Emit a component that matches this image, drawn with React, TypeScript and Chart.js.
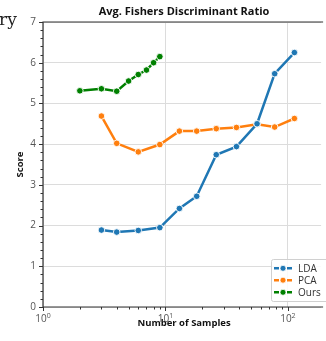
import React, { useEffect, useRef } from "react";
import { Chart, registerables } from "chart.js";

Chart.register(...registerables);

const ldaX = [3, 4, 6, 9, 13, 18, 26, 38, 56, 78, 113];
const ldaY = [1.89, 1.84, 1.88, 1.95, 2.42, 2.72, 3.74, 3.94, 4.5, 5.73, 6.25];
const pcaX = [3, 4, 6, 9, 13, 18, 26, 38, 56, 78, 113];
const pcaY = [4.69, 4.02, 3.81, 3.99, 4.32, 4.32, 4.38, 4.41, 4.49, 4.42, 4.63];
const oursX = [2, 3, 4, 5, 6, 7, 8, 9];
const oursY = [5.31, 5.36, 5.3, 5.55, 5.71, 5.82, 6.0, 6.15];

const seriesNames = ["LDA", "PCA", "Ours"];
const seriesColors = ["#1f77b4", "#ff7f0e", "#008000"];
const yTicks = [0, 1, 2, 3, 4, 5, 6, 7];
const xMajor = [1, 10, 100];
const xExp = ["0", "1", "2"];

const titleText = "Avg. Fishers Discriminant Ratio";
const xTitle = "Number of Samples";
const yTitle = "Score";
const FONT = "'Open Sans', 'Noto Sans', sans-serif";

const pts = (xs: number[], ys: number[]) => xs.map((x, i) => ({ x, y: ys[i] }));

const decor = {
  id: "decor",
  afterDraw(chart: any) {
    const { ctx, chartArea: a, scales } = chart;
    const xs = scales.x;
    const ys = scales.y;
    ctx.save();
    // spines
    ctx.strokeStyle = "#333";
    ctx.lineWidth = 1.2;
    ctx.beginPath();
    ctx.moveTo(a.right + 2, a.top);
    ctx.lineTo(a.left, a.top);
    ctx.lineTo(a.left, a.bottom);
    ctx.lineTo(a.right + 2, a.bottom);
    ctx.stroke();
    // y ticks
    ctx.lineWidth = 1;
    for (let v = 0; v <= 7.0001; v += 0.2) {
      const p = Math.round(ys.getPixelForValue(v)) + 0.5;
      const major = Math.abs(v - Math.round(v)) < 0.01;
      ctx.beginPath();
      ctx.moveTo(a.left, p);
      ctx.lineTo(a.left - (major ? 4 : 2.5), p);
      ctx.stroke();
    }
    // x ticks
    for (let d = 1; d <= 100; d *= 10) {
      for (let m = 1; m <= 9; m++) {
        const v = d * m;
        if (v > xs.max) break;
        const p = Math.round(xs.getPixelForValue(v)) + 0.5;
        const major = m === 1;
        ctx.beginPath();
        ctx.moveTo(p, a.bottom);
        ctx.lineTo(p, a.bottom + (major ? 4 : 2.5));
        ctx.stroke();
      }
    }
    // y tick labels
    ctx.fillStyle = "#555";
    ctx.font = `10px ${FONT}`;
    ctx.textAlign = "right";
    ctx.textBaseline = "middle";
    yTicks.forEach((v) => {
      ctx.fillText(String(v), a.left - 7, ys.getPixelForValue(v));
    });
    // x tick labels
    xMajor.forEach((v, i) => {
      const p = xs.getPixelForValue(v);
      ctx.font = `10px ${FONT}`;
      ctx.textBaseline = "top";
      const w10 = ctx.measureText("10").width;
      ctx.font = `7px ${FONT}`;
      const we = ctx.measureText(xExp[i]).width;
      const start = p - (w10 + we) / 2;
      ctx.font = `10px ${FONT}`;
      ctx.textAlign = "left";
      ctx.fillText("10", start, a.bottom + 7);
      ctx.font = `7px ${FONT}`;
      ctx.fillText(xExp[i], start + w10, a.bottom + 5);
    });
    // titles
    ctx.fillStyle = "#111";
    ctx.font = `bold 11px ${FONT}`;
    ctx.textAlign = "center";
    ctx.textBaseline = "middle";
    ctx.fillText(titleText, (a.left + a.right) / 2 + 2, 12);
    ctx.font = `bold 9.5px ${FONT}`;
    ctx.fillText(xTitle, (a.left + a.right) / 2 + 2, 323);
    ctx.save();
    ctx.translate(20, (a.top + a.bottom) / 2);
    ctx.rotate(-Math.PI / 2);
    ctx.fillText(yTitle, 0, 0);
    ctx.restore();
    // legend
    const lx = 271.5, ly = 259.5, lw = 60, lh = 42;
    ctx.fillStyle = "rgba(255,255,255,0.85)";
    ctx.strokeStyle = "#d0d0d0";
    ctx.lineWidth = 1;
    ctx.beginPath();
    ctx.roundRect(lx, ly, lw, lh, 2);
    ctx.fill();
    ctx.stroke();
    const rows = [268.3, 280.2, 292.3];
    seriesNames.forEach((name, i) => {
      const y = rows[i];
      ctx.strokeStyle = seriesColors[i];
      ctx.lineWidth = 2.5;
      ctx.setLineDash([5, 1.5]);
      ctx.beginPath();
      ctx.moveTo(274, y);
      ctx.lineTo(292, y);
      ctx.stroke();
      ctx.setLineDash([]);
      ctx.beginPath();
      ctx.arc(283, y, 3, 0, Math.PI * 2);
      ctx.fillStyle = seriesColors[i];
      ctx.fill();
      ctx.strokeStyle = "#fff";
      ctx.lineWidth = 0.8;
      ctx.stroke();
      ctx.fillStyle = "#333";
      ctx.font = `10px ${FONT}`;
      ctx.textAlign = "left";
      ctx.textBaseline = "middle";
      ctx.fillText(name, 298, y + 0.5);
    });
    ctx.restore();
  },
};

export default function App() {
  const ref = useRef<HTMLCanvasElement>(null);
  useEffect(() => {
    document.body.style.margin = "0";
    const mk = (xs: number[], ys: number[], i: number) => ({
      label: seriesNames[i],
      data: pts(xs, ys),
      borderColor: seriesColors[i],
      backgroundColor: seriesColors[i],
      borderWidth: 2.5,
      pointRadius: 3.3,
      pointBorderColor: "#fff",
      pointBorderWidth: 0.9,
      pointBackgroundColor: seriesColors[i],
      tension: 0,
    });
    const chart = new Chart(ref.current!, {
      type: "line",
      data: {
        datasets: [mk(ldaX, ldaY, 0), mk(pcaX, pcaY, 1), mk(oursX, oursY, 2)],
      },
      options: {
        animation: false,
        responsive: false,
        layout: { padding: { top: 22, right: 0, left: 0, bottom: 0 } },
        plugins: { legend: { display: false }, tooltip: { enabled: false } },
        scales: {
          x: {
            type: "logarithmic",
            min: 1,
            max: 186.7,
            afterBuildTicks: (s: any) => {
              s.ticks = xMajor.map((v) => ({ value: v }));
            },
            afterFit: (s: any) => {
              s.height = 34;
            },
            ticks: { display: false },
            grid: { color: "#dcdcdc", lineWidth: 1, drawTicks: false },
            border: { display: false },
          },
          y: {
            type: "linear",
            min: 0,
            max: 7,
            afterBuildTicks: (s: any) => {
              s.ticks = yTicks.map((v) => ({ value: v }));
            },
            afterFit: (s: any) => {
              s.width = 43;
            },
            ticks: { display: false },
            grid: { color: "#dcdcdc", lineWidth: 1, drawTicks: false },
            border: { display: false },
          },
        },
      } as any,
      plugins: [decor],
    });
    return () => chart.destroy();
  }, []);
  return (
    <div style={{ position: "relative", width: 326, height: 341, background: "#fff", overflow: "hidden" }}>
      <div
        style={{
          position: "absolute",
          left: -1,
          top: 9,
          fontFamily: "'DejaVu Serif', 'Liberation Serif', serif",
          fontSize: 17,
          lineHeight: "20px",
          color: "#222",
        }}
      >
        ry
      </div>
      <canvas ref={ref} width={326} height={341} style={{ display: "block" }} />
    </div>
  );
}
